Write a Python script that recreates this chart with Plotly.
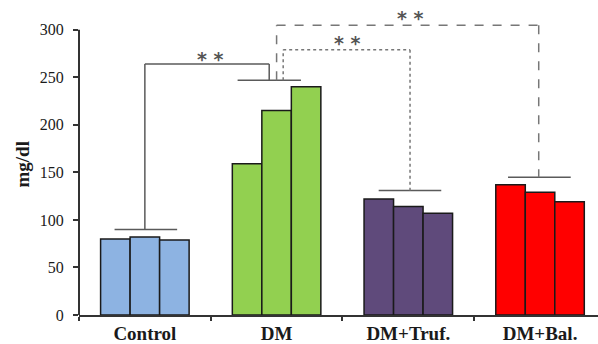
import plotly.graph_objects as go

categories = ["Control", "DM", "DM+Truf.", "DM+Bal."]
bar1 = [80, 159, 122, 137]
bar2 = [82, 215, 114, 129]
bar3 = [79, 240, 107, 119]
colors = ["#8db3e2", "#92d050", "#5f4a7b", "#ff0000"]
y_ticks = [0, 50, 100, 150, 200, 250, 300]

fig = go.Figure()
for vals in (bar1, bar2, bar3):
    fig.add_trace(go.Bar(x=categories, y=vals, marker=dict(color=colors, line=dict(color="#1a1a1a", width=1.5)),
                         showlegend=False))

serif = "Liberation Serif"
fig.update_layout(
    width=598, height=344, margin=dict(l=79, r=0, t=0, b=29),
    plot_bgcolor="white", paper_bgcolor="white",
    barmode="group", bargap=0.328, bargroupgap=0,
    xaxis=dict(type="category", range=[-0.5, 3.44], showline=True, linecolor="#333", linewidth=2,
               ticks="outside", tickson="boundaries", ticklen=4, tickwidth=2, tickcolor="#333",
               tickfont=dict(family=serif, size=19, color="#1a1a1a"), showgrid=False, zeroline=False,
               automargin=False, ticklabelstandoff=0),
    yaxis=dict(range=[0, 331.3], tickvals=y_ticks, ticks="outside", ticklen=5, tickwidth=2, tickcolor="#333",
               tickfont=dict(family=serif, size=16, color="#1a1a1a"), showline=False, showgrid=False,
               zeroline=False, ticklabelstandoff=6, automargin=False),
    font=dict(family=serif, color="#1a1a1a"),
)

# y axis line limited to 0..300
fig.add_shape(type="line", xref="paper", yref="y", x0=0, x1=0, y0=0, y1=300, line=dict(color="#333", width=2))

gray = "#5a5a5a"
def seg(x0, y0, x1, y1, dash="solid", color=gray):
    fig.add_shape(type="line", xref="x", yref="y", x0=x0, y0=y0, x1=x1, y1=y1,
                  line=dict(color=color, width=1.5, dash=dash))

# group reference lines
seg(-0.23, 90, 0.245, 90)
seg(0.704, 247, 1.185, 247)
seg(1.775, 131, 2.25, 131)
seg(2.757, 145, 3.233, 145)
# solid bracket Control - DM
seg(0, 90, 0, 264); seg(0, 264, 0.944, 264); seg(0.944, 264, 0.944, 247)
# dotted bracket DM - Truf
seg(1.05, 247, 1.05, 279, "dot", "#777"); seg(1.05, 279, 2.013, 279, "dot", "#777"); seg(2.013, 279, 2.013, 131, "dot", "#777")
# dashed bracket DM - Bal
seg(1.0, 247, 1.0, 304.7, "dash", "#777"); seg(1.0, 304.7, 2.99, 304.7, "dash", "#777"); seg(2.99, 304.7, 2.99, 145, "dash", "#777")

for xx, yy in [(0.5, 269), (1.54, 286), (2.02, 312.5)]:
    fig.add_annotation(x=xx, y=yy, xref="x", yref="y", text="<b>* *</b>", showarrow=False,
                       font=dict(family="DejaVu Sans", size=19, color="#555"), yanchor="middle")

fig.add_annotation(text="<b>mg/dl</b>", xref="paper", yref="paper", x=(21.5 - 79) / 519, y=(315 - 165) / 315,
                   xanchor="center", yanchor="middle", textangle=-90, showarrow=False,
                   font=dict(family=serif, size=19, color="#1a1a1a"))

fig.update_xaxes(tickprefix="<b>", ticksuffix="</b>")
fig.update_yaxes(tickprefix="<b>", ticksuffix="</b>")
fig.write_html("out.html", config={"displayModeBar": False},
               post_script="document.body.style.margin='0px';document.body.style.overflow='hidden';")
